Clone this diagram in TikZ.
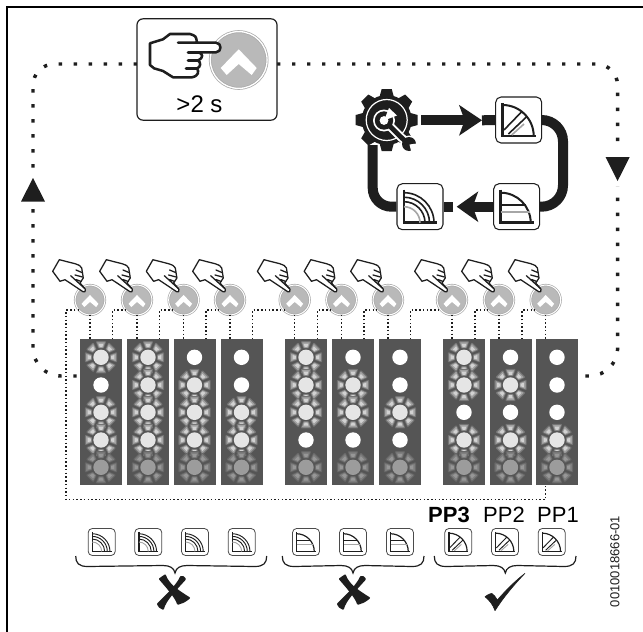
\documentclass[tikz,border=0pt]{standalone}
\usepackage{fontspec}
\setmainfont{Liberation Sans}
\usetikzlibrary{arrows.meta,calc}
\definecolor{panelgray}{HTML}{555555}
\definecolor{btnfill}{HTML}{B9B9B9}
\definecolor{btnring}{HTML}{A8A8A8}
\definecolor{iconline}{HTML}{1E1E1E}
\definecolor{rayA}{HTML}{747474}
\definecolor{rayB}{HTML}{A2A2A2}
\definecolor{rayC}{HTML}{D2D2D2}
\definecolor{dimA}{HTML}{666666}
\definecolor{dimB}{HTML}{7E7E7E}
\definecolor{dimC}{HTML}{979797}
\tikzset{
  panel/.style={fill=panelgray,minimum width=31.5pt,minimum height=109.5pt,inner sep=0pt},
  btn/.style={circle,minimum size=22.4pt,inner sep=0pt,outer sep=0pt,fill=btnfill,draw=btnring,line width=.5pt,double=white,double distance=.75pt},
  bigbtn/.style={circle,minimum size=42.6pt,inner sep=0pt,outer sep=0pt,fill=btnfill,draw=btnring,line width=.55pt,double=white,double distance=1pt},
  bigicon/.style={draw=iconline,fill=white,rounded corners=4pt,line width=.8pt,minimum size=34.5pt,inner sep=0pt},
  smallicon/.style={draw=iconline!80,fill=white,rounded corners=3pt,line width=.6pt,minimum size=20.2pt,inner sep=0pt},
  loopdots/.style={draw=iconline,line width=2.6pt,dash pattern=on 2.6pt off 8.65pt},
  finedots/.style={draw=iconline,line width=1.1pt,dash pattern=on 1.1pt off 1.7pt},
  bar/.style={draw=iconline,line width=7.5pt},
  brace/.style={draw=iconline,line width=.9pt},
  hand/.style={draw=iconline,fill=white,line join=round,line cap=round},
  txt/.style={font=\fontsize{16.5pt}{18pt}\selectfont,inner sep=0pt},
}
\newcommand{\chev}[2]{\fill[white,shift={(#1)},scale=#2] (0,-10.7) -- (18,8) -- (13,15) -- (0,4) -- (-12,15) -- (-18,8) -- cycle;}
\newcommand{\smallhand}[1]{%
  \begin{scope}[shift={(#1)}]
  \path[hand,line width=.95pt] (-37.3,-28.7) -- (-30.7,-40.3) -- (-15,-36.3) .. controls (-10,-34.5) .. (-8.3,-32)
     -- (-6.7,-22) -- (-10,-17) -- (-4.7,-10.8) .. controls (-4.7,-8) .. (-7,-8.3) -- (-20,-17) -- (-25,-20.3) -- (-30,-18.7) -- cycle;
  \draw[iconline,line width=.95pt,line cap=round] (-19.3,-24.3) -- (-5.5,-11.7)
     (-14,-30) -- (-8,-27.5) (-15,-25) -- (-7.5,-23) (-14,-20.5) -- (-9,-18.5);
  \end{scope}}
\newcommand{\qarc}[1]{(0,-#1) .. controls (.55*#1,-#1) and (#1,-.55*#1) .. (#1,0)}
\newcommand{\axes}[1]{\draw[iconline,line width=#1*1.9pt] (-16,-17) -- (-16,16) -- (17,16);}
% icon with diagonal hatching
\newcommand{\icA}[2]{\begin{scope}[shift={(#1)},scale=#2]
  \axes{#2}
  \draw[iconline,line width=#2*1.5pt,shift={(-16,16)}] \qarc{31};
  \draw[iconline,line width=#2*1.2pt] (-14.7,10) -- (3,-8.3) (-10.3,14) -- (8,-3.3);
  \draw[gray!70,line width=#2*1.2pt] (-7,15) -- (5.3,4);
  \end{scope}}
% icon with horizontal lines
\newcommand{\icB}[2]{\begin{scope}[shift={(#1)},scale=#2]
  \axes{#2}
  \draw[iconline,line width=#2*1.5pt,shift={(-16,16)}] \qarc{30};
  \draw[iconline,line width=#2*1.2pt] (-16,-2) -- (9,-2);
  \draw[gray!70,line width=#2*1.2pt] (-16,5) -- (13,5);
  \end{scope}}
% icon with concentric arcs
\newcommand{\icC}[2]{\begin{scope}[shift={(#1)},scale=#2]
  \axes{#2}
  \begin{scope}[shift={(-16,16)}]
  \draw[iconline,line width=#2*1.2pt] \qarc{30} \qarc{25.5} \qarc{21};
  \draw[gray!70,line width=#2*1.2pt] \qarc{16};
  \end{scope}
  \end{scope}}
\newcommand{\curly}[4]{%
  \coordinate (bl#1) at (#2,556); \coordinate (bm#1) at (#3,573); \coordinate (br#1) at (#4,556);
  \draw[brace] (bl#1) .. controls (#2,563) and (#2+3,566.5) .. (#2+12,566.5) -- (#3-12,565.5)
     .. controls (#3-5,565.5) and (#3-1,568) .. (bm#1) .. controls (#3+1,568) and (#3+5,565.5) .. (#3+12,565.5)
     -- (#4-12,566.5) .. controls (#4-3,566.5) and (#4,563) .. (br#1);}
\newcommand{\crossmark}[1]{\begin{scope}[shift={(#1)}]
  \filldraw[iconline,line width=1.5pt,line join=round] (-13,-13) -- (-8,-16.5) .. controls (-5,-8) and (3,-2) .. (16,6)
     .. controls (11,10) and (8,11) .. (5,11.7) .. controls (3,5) and (-7,-6) .. (-13,-13) -- cycle;
  \filldraw[iconline,line width=1.5pt,line join=round] (12,-13) .. controls (11,-15) and (9,-15.5) .. (8,-15)
     .. controls (4,-6) and (-7,4) .. (-15,12) .. controls (-14,14) and (-13,16) .. (-10,16.7)
     .. controls (-8,8) and (4,-4) .. (12,-13) -- cycle;
  \end{scope}}
% rays of a glowing LED: #1 centre, #2..#4 colours
\newcommand{\rays}[4]{%
  \foreach \ra in {0,45,...,315}{
   \begin{scope}[shift={(#1)},rotate=\ra]
    \filldraw[#2,line width=1.4pt,line join=round] (-2,-9.8) -- (2,-9.8) -- (4,-15.2) -- (-4,-15.2) -- cycle;
    \filldraw[#3,line width=.6pt,line join=round] (-1.8,-10) -- (1.8,-10) -- (3.4,-14.6) -- (-3.4,-14.6) -- cycle;
    \fill[#4] (-1.3,-10.2) -- (1.3,-10.2) -- (2.3,-13.4) -- (-2.3,-13.4) -- cycle;
   \end{scope}}}
\begin{document}
\begin{tikzpicture}[x=.75pt,y=-.75pt]
\useasboundingbox (0,0) rectangle (643,632);
\fill[white] (0,0) rectangle (643,632);
\draw[black,line width=1.6pt] (7,632) -- (7,7) -- (643,7);

% --- main dotted loop
\coordinate (loopL) at (137,64);
\coordinate (loopR) at (277,64);
\coordinate (loopLt) at (33,64);
\coordinate (loopLb) at (33,376);
\coordinate (loopRt) at (617.6,64);
\coordinate (loopRb) at (617.6,376);

% --- panels with LEDs
\foreach \i/\cx/\bx/\a/\b/\c/\d in {
  1/101/90/1/0/1/1, 2/148/137/1/1/1/1, 3/194.5/183.6/0/1/1/1, 4/241.5/230/0/0/1/1,
  5/306/294.7/1/1/1/0, 6/353/341.5/0/1/1/0, 7/400/388/0/0/1/0,
  8/464/452/1/1/0/1, 9/510.5/499/0/1/0/1, 10/557/545.7/0/0/0/1}{
  \node[panel] (p\i) at (\cx,412) {};
  \node[btn] (b\i) at (\bx,300) {};
  \foreach \s/\y in {\a/357.3,\b/385,\c/412.3,\d/440}{
    \ifnum\s=1 \rays{\cx,\y}{rayA}{rayB}{rayC}\fi
  }
  \rays{\cx,467.3}{dimA}{dimB}{dimC}
  \foreach \s/\y in {\a/357.3,\b/385,\c/412.3,\d/440}{
    \ifnum\s=1 \fill[gray!20!white] (\cx,\y) circle[radius=7.7];
    \else \fill[white] (\cx,\y) circle[radius=7.7]; \fi
  }
  \fill[gray!78] (\cx,467.3) circle[radius=7.7];
  \chev{b\i.center}{.47}
  \smallhand{b\i.center}
  \draw[finedots] (b\i.south) -- (b\i.south |- p\i.north);
}
% --- fine dotted chain
\coordinate (c1) at (66,311);
\coordinate (c2) at (66,499.5);
\coordinate (c3) at (545.7,499.5);
\draw[finedots] (b1.223) -| (c1) -- (c2) -- (c3) -- (c3 |- p10.south);
\foreach \k/\n/\ux in {1/2/112.7, 2/3/159.6, 3/4/206, 4/5/252.6, 5/6/317.7, 6/7/364, 7/8/410.7, 8/9/475, 9/10/522}{
  \coordinate (u\k) at (\ux,339);
  \draw[finedots] (u\k) |- (b\n.223);
}

% --- main loop
\draw[loopdots,rounded corners=16pt] (loopL) -- (loopLt) [rounded corners=21pt] -- (loopLb) -- (p1.west |- loopLb);
\draw[loopdots,rounded corners=16pt] (loopR) -- (loopRt) [rounded corners=21pt] -- (loopRb) -- (p10.east |- loopRb);
\fill[white] (20,172) rectangle (46,206);
\fill[white] (604,152) rectangle (631,186);
\fill[iconline] (33,178) -- (45,201.5) -- (21,201.5) -- cycle;
\fill[iconline] (617.6,181) -- (605.5,157) -- (629.7,157) -- cycle;

% --- top box
\node[draw=iconline,fill=white,rounded corners=4.5pt,line width=.9pt,minimum width=105pt,minimum height=76pt,inner sep=0pt] (topbox) at (207,69.5) {};
\node[txt,font=\fontsize{18pt}{20pt}\selectfont] (hold) at (199.5,104) {>2 s};
\node[bigbtn] (topbtn) at (238.7,60) {};
\chev{topbtn.center}{1}
\path[hand,line width=1.9pt] (197,42.7) .. controls (196,36) .. (190,34) -- (170,34) -- (163,39.3) -- (150,43.3) -- (150,65) -- (154,68.3) -- (163,71) -- (173,77.3) -- (192,77.3)
   .. controls (199,76) and (199,71) .. (197,68.5) .. controls (201,67) and (201,62) .. (198,60.5) .. controls (204,58) and (203,53) .. (198,52.3)
   -- (216,52.3) .. controls (222,52) and (222,43) .. (216,42.7) -- (178,42.7) -- (216,42.7);
\draw[iconline,line width=1.9pt,line cap=round] (188,52.3) -- (200,52.3) (188,60.5) -- (198,60.5) (186,68.5) -- (197,68.5);

% --- cycle at top right
\node[circle,minimum size=46.5pt,inner sep=0pt] (gear) at (386.7,120) {};
\foreach \t in {0,45,...,315}{
  \fill[iconline,shift={(gear.center)},rotate=\t] (-7.5,-22) -- (7.5,-22) -- (5,-31) -- (-5,-31) -- cycle;
}
\fill[iconline] (gear.center) circle[radius=25];
\draw[white,line width=.9pt] (gear.center) circle[radius=20.5];
% wrench
\fill[white] (384,120.5) circle[radius=11];
\draw[white,line width=6.5pt] (384,120.5) -- (408,144);
\fill[white] (409,144) circle[radius=8.5];
\draw[iconline,line width=3.6pt] (384,120.5) -- (408,144);
\fill[iconline] (384,120.5) circle[radius=9.2];
\fill[white] (384,120.5) circle[radius=4.4];
\fill[white] (384,120.5) -- (389,108) -- (397,115.5) -- cycle;
\fill[iconline] (409,144) circle[radius=7];
\fill[white] (409.5,144.5) -- (420,143) -- (412,155) -- cycle;
\node[bigicon] (ia) at (518.7,120) {};
\node[bigicon] (ib) at (516.7,206.7) {};
\node[bigicon] (ic) at (420,206.7) {};
\coordinate (cr) at (563,163);
\coordinate (cl) at (372.7,145);
\coordinate (g1) at (421,120.3);
\coordinate (g2) at (482,120.3);
\coordinate (g3) at (456.7,206.7);
\coordinate (g4) at (453,206.7);
\draw[bar,rounded corners=16pt] (ia.east) -| (cr) |- (ib.east);
\draw[bar,rounded corners=14pt] (ic.west) -| (cl);
\draw[bar,-{Stealth[length=17pt,width=22.5pt,inset=4pt]}] (g1) -- (g2);
\draw[bar] (g2) -- (ia.west);
\draw[bar,-{Stealth[length=16pt,width=22.5pt,inset=4pt]}] (ib.west) -- (g3);
\draw[bar] (g4) -- (ic.east);
\icA{ia.center}{1}
\icB{ib.center}{1}
\icC{ic.center}{1}

% --- small icons
\foreach \n/\x in {1/101.7,2/148.3,3/195,4/241.7}{
  \node[smallicon] (sc\n) at (\x,542) {};
  \icC{sc\n.center}{.59}
}
\foreach \n/\x in {1/306,2/353,3/400}{
  \node[smallicon] (sb\n) at (\x,542) {};
  \icB{sb\n.center}{.59}
}
\foreach \n/\x in {1/458.3,2/505,3/551.7}{
  \node[smallicon] (sa\n) at (\x,542) {};
  \icA{sa\n.center}{.59}
}
\curly{a}{75.7}{175}{266.7}
\curly{b}{282.3}{353}{424}
\curly{c}{434.3}{505.3}{576}
\crossmark{173,592}
\crossmark{353,592}
\filldraw[iconline,line width=.4pt,line join=round] (485,596.7) .. controls (487,595) and (490,593.5) .. (491.7,593.3) .. controls (494,595) and (496,597) .. (497.3,600)
   .. controls (506,590) and (515,581) .. (525,573.3) .. controls (513,586) and (503,598) .. (495,610.7)
   .. controls (493,605) and (490,601) .. (485,596.7) -- cycle;

% --- labels
\node[txt,font=\fontsize{16.5pt}{18pt}\selectfont\bfseries,anchor=base] (pp3) at (449,522) {PP3};
\node[txt,anchor=base] (pp2) at (504,522) {PP2};
\node[txt,anchor=base] (pp1) at (558,522) {PP1};
\node[inner sep=0pt,rotate=90,font=\fontsize{9.75pt}{11pt}\selectfont,text=iconline] (code) at (615,561.5) {0010018666-01};
\end{tikzpicture}
\end{document}
